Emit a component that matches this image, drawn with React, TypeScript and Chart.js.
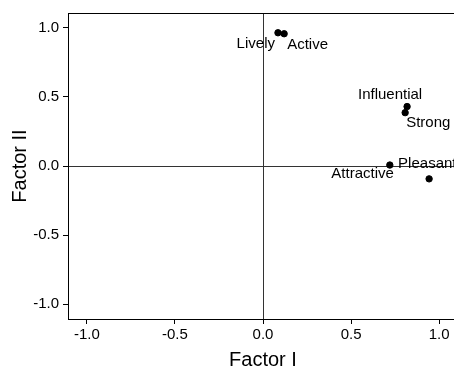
import React, { useEffect, useRef } from "react";
import { Chart, registerables } from "chart.js";

Chart.register(...registerables);

const names = ["Lively", "Active", "Influential", "Strong", "Attractive", "Pleasant"];
const factorI = [0.085, 0.12, 0.818, 0.807, 0.72, 0.943];
const factorII = [0.964, 0.957, 0.43, 0.386, 0.007, -0.093];
const tickValues = [-1.0, -0.5, 0.0, 0.5, 1.0];

// label placement (pixel offsets from the point, text alignment)
const labelDx = [-3, 3, -17, 1, 4, -31];
const labelDy = [11, 11, -12, 10, 9, -15];
const labelAlign: CanvasTextAlign[] = ["right", "left", "center", "left", "right", "left"];

const FONT = "'Liberation Sans', Arial, Helvetica, sans-serif";

const frameAndLabels = {
  id: "frameAndLabels",
  afterDatasetsDraw(chart: any) {
    const { ctx, chartArea } = chart;
    ctx.save();
    ctx.strokeStyle = "#000";
    ctx.lineWidth = 1;
    ctx.strokeRect(
      Math.round(chartArea.left) + 0.5,
      Math.round(chartArea.top) + 0.5,
      Math.round(chartArea.right - chartArea.left),
      Math.round(chartArea.bottom - chartArea.top)
    );
    const meta = chart.getDatasetMeta(0);
    ctx.fillStyle = "#000";
    ctx.font = `15px ${FONT}`;
    ctx.textBaseline = "middle";
    meta.data.forEach((pt: any, i: number) => {
      ctx.textAlign = labelAlign[i];
      ctx.fillText(names[i], pt.x + labelDx[i], pt.y + labelDy[i]);
    });
    ctx.restore();
  },
};

export default function App() {
  const ref = useRef<HTMLCanvasElement>(null);
  useEffect(() => {
    if (!ref.current) return;
    const lim = 1.107;
    const gridColor = (c: any) => (c.tick && c.tick.value === 0 ? "#333" : "rgba(0,0,0,0)");
    const chart = new Chart(ref.current, {
      type: "scatter",
      data: {
        datasets: [
          {
            data: factorI.map((x, i) => ({ x, y: factorII[i] })),
            backgroundColor: "#000",
            borderColor: "#000",
            pointRadius: 3.2,
            pointHoverRadius: 3.2,
          },
        ],
      },
      options: {
        responsive: false,
        animation: false,
        events: [],
        layout: { padding: { left: 0, top: 9, right: 16, bottom: 0 } },
        plugins: { legend: { display: false }, tooltip: { enabled: false } },
        scales: {
          x: {
            type: "linear",
            min: -lim,
            max: lim,
            afterBuildTicks: (s: any) => {
              s.ticks = tickValues.map((v) => ({ value: v }));
            },
            afterFit: (s: any) => {
              s.height = 56;
            },
            ticks: {
              includeBounds: false,
              color: "#000",
              font: { family: FONT, size: 15 },
              padding: 2,
              maxRotation: 0,
              callback: (v: any) => Number(v).toFixed(1),
            },
            grid: { color: gridColor, tickColor: "#000", tickLength: 5, lineWidth: 1 },
            border: { display: true, color: "#000", width: 1 },
            title: {
              display: true,
              text: "Factor I",
              color: "#000",
              font: { family: FONT, size: 20 },
              padding: { top: 0, bottom: 3 },
            },
          },
          y: {
            type: "linear",
            min: -lim,
            max: lim,
            afterBuildTicks: (s: any) => {
              s.ticks = tickValues.map((v) => ({ value: v }));
            },
            afterFit: (s: any) => {
              s.width = 68;
            },
            ticks: {
              includeBounds: false,
              color: "#000",
              font: { family: FONT, size: 15 },
              padding: 4,
              callback: (v: any) => Number(v).toFixed(1),
            },
            grid: { color: gridColor, tickColor: "#000", tickLength: 5, lineWidth: 1 },
            border: { display: true, color: "#000", width: 1 },
            title: {
              display: true,
              text: "Factor II",
              color: "#000",
              font: { family: FONT, size: 20 },
              padding: { top: 8, bottom: 0 },
            },
          },
        },
      },
      plugins: [frameAndLabels],
    } as any);
    return () => chart.destroy();
  }, []);
  return (
    <div
      style={{
        position: "fixed",
        left: 0,
        top: 0,
        width: 454,
        height: 375,
        overflow: "hidden",
        background: "#fff",
      }}
    >
      <canvas ref={ref} width={474} height={375} style={{ width: 474, height: 375, display: "block" }} />
    </div>
  );
}
